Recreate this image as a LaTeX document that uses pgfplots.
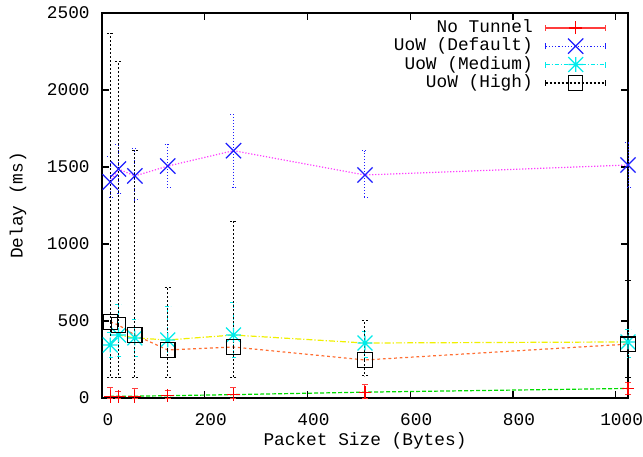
\documentclass[border=0pt]{standalone}
\usepackage{fontspec}
\setmainfont{Liberation Mono}
\usepackage{pgfplots}
\pgfplotsset{compat=1.18}

\definecolor{gpred}{RGB}{255,0,0}
\definecolor{gpredl}{RGB}{255,60,60}
\definecolor{gpgreen}{RGB}{0,220,0}
\definecolor{gpmag}{RGB}{255,60,255}
\definecolor{gpyel}{RGB}{240,240,0}
\definecolor{gporange}{RGB}{255,110,50}
\definecolor{gpblue}{RGB}{30,30,255}
\definecolor{gpcyan}{RGB}{0,235,235}

% gnuplot style star: plus and cross on top of each other
\pgfdeclareplotmark{gpstar}{%
  \pgfpathmoveto{\pgfqpoint{0pt}{-\pgfplotmarksize}}%
  \pgfpathlineto{\pgfqpoint{0pt}{\pgfplotmarksize}}%
  \pgfpathmoveto{\pgfqpoint{-\pgfplotmarksize}{0pt}}%
  \pgfpathlineto{\pgfqpoint{\pgfplotmarksize}{0pt}}%
  \pgfpathmoveto{\pgfqpoint{-\pgfplotmarksize}{-\pgfplotmarksize}}%
  \pgfpathlineto{\pgfqpoint{\pgfplotmarksize}{\pgfplotmarksize}}%
  \pgfpathmoveto{\pgfqpoint{-\pgfplotmarksize}{\pgfplotmarksize}}%
  \pgfpathlineto{\pgfqpoint{\pgfplotmarksize}{-\pgfplotmarksize}}%
  \pgfusepathqstroke}
\pgfdeclareplotmark{gpx}{%
  \pgfpathmoveto{\pgfqpoint{-\pgfplotmarksize}{-\pgfplotmarksize}}%
  \pgfpathlineto{\pgfqpoint{\pgfplotmarksize}{\pgfplotmarksize}}%
  \pgfpathmoveto{\pgfqpoint{-\pgfplotmarksize}{\pgfplotmarksize}}%
  \pgfpathlineto{\pgfqpoint{\pgfplotmarksize}{-\pgfplotmarksize}}%
  \pgfusepathqstroke}

\pgfplotsset{
  gpbars/.style={error bars/.cd, y dir=both, y explicit,
    error bar style={line width=0.5pt,#1},
    error mark options={rotate=90, mark size=1.5pt, line width=0.5pt, solid, #1}},
}

% x y ep em  (value, plus error, minus error)
\pgfplotstableread{
x y ep em
16 12 53 12
32 12 28 12
64 12 48 12
128 15 35 15
256 22 48 22
512 38 52 38
1024 62 38 42
}\notunnel
\pgfplotstableread{
x y ep em
16 1403 162 103
32 1487 156 156
64 1442 175 156
128 1506 143 136
256 1606 238 242
512 1448 158 143
1024 1513 143 143
}\uowdefault
\pgfplotstableread{
x y ep em
16 344 81 78
32 409 195 137
64 390 123 118
128 377 220 111
256 409 208 143
512 357 78 91
1024 364 84 98
}\uowmedium
\pgfplotstableread{
x y ep em
16 494 1876 358
32 474 1708 338
64 409 1201 273
128 312 408 176
256 331 818 195
512 247 259 104
1024 350 410 214
}\uowhigh

\begin{document}
\fontsize{8.9}{10}\selectfont
\begin{tikzpicture}
\path[use as bounding box] (-51pt,-29pt) rectangle (270.5pt,199pt);
\begin{axis}[
    scale only axis,
    width=263pt, height=192.5pt,
    xmin=0, xmax=1024, ymin=0, ymax=2500,
    xtick={0,200,...,1000}, ytick={0,500,...,2500},
    /pgf/number format/1000 sep={},
    /pgf/number format/assume math mode=true,
    scaled ticks=false,
    tick align=inside,
    major tick length=3.5pt,
    axis line style={line width=0.75pt},
    tick style={line width=0.6pt, black},
    xticklabel style={yshift=-4.5pt, xshift=3pt},
    yticklabel style={xshift=-3pt},
    xlabel={Packet Size (Bytes)},
    ylabel={Delay (ms)},
    xlabel style={at={(axis description cs:0.5,-0.1117)}, anchor=center},
    ylabel style={at={(axis description cs:-0.1597,0.5)}, anchor=center},
    clip=false,
    legend plot pos=right,
    legend cell align=right,
    legend style={at={(rel axis cs:1,1)}, anchor=north east, xshift=-10.5pt, yshift=-3pt,
      draw=none, fill=none, inner sep=0pt, row sep=0.9pt, column sep=6pt,
      nodes={inner sep=0pt, text height=6.5pt, text depth=1.8pt}},
  ]
% connecting lines
\addplot[gpgreen, line width=0.6pt, dash pattern=on 2pt off 1pt, forget plot] table[x=x,y=y] {\notunnel};
\addplot[gpmag, line width=0.6pt, dash pattern=on 0.6pt off 0.9pt, forget plot] table[x=x,y=y] {\uowdefault};
\addplot[gpyel, line width=0.6pt, dash pattern=on 3pt off 1pt on 0.6pt off 1pt, forget plot] table[x=x,y=y] {\uowmedium};
\addplot[gporange, line width=0.6pt, dash pattern=on 1.4pt off 1.4pt, forget plot] table[x=x,y=y] {\uowhigh};

% error bars with points
\addplot[color=gpred, only marks, mark=+, mark size=3.2pt, mark options={line width=0.6pt},
  legend image code/.code={
    \draw[gpredl, line width=0.9pt] (0pt,0pt) -- (30pt,0pt);
    \draw[gpredl, line width=0.6pt] (0pt,-1.5pt) -- (0pt,1.5pt) (30pt,-1.5pt) -- (30pt,1.5pt);
    \draw[gpred, line width=0.8pt] (11.8pt,0pt) -- (18.2pt,0pt) (15pt,-3.2pt) -- (15pt,3.2pt);},
  gpbars={gpredl}]
  table[x=x, y=y, y error plus=ep, y error minus=em] {\notunnel};
\addlegendentry{No Tunnel}
\addplot[gpblue, only marks, mark=gpx, mark size=3.8pt, mark options={line width=0.6pt},
  legend image code/.code={
    \draw[gpblue, line width=0.6pt, dash pattern=on 0.6pt off 1pt] (0pt,0pt) -- (30pt,0pt);
    \draw[gpblue, line width=0.6pt] (0pt,-1.5pt) -- (0pt,1.5pt) (30pt,-1.5pt) -- (30pt,1.5pt);
    \draw[gpblue, line width=0.6pt] plot[mark=gpx, mark size=3.8pt] coordinates {(15pt,0pt)};},
  gpbars={gpblue, dash pattern=on 0.5pt off 1pt}]
  table[x=x, y=y, y error plus=ep, y error minus=em] {\uowdefault};
\addlegendentry{UoW (Default)}
\addplot[gpcyan, only marks, mark=gpstar, mark size=3.7pt, mark options={line width=0.6pt},
  legend image code/.code={
    \draw[gpcyan, line width=0.6pt, dash pattern=on 2pt off 1pt on 0.5pt off 1pt] (0pt,0pt) -- (30pt,0pt);
    \draw[gpcyan, line width=0.6pt] (0pt,-1.5pt) -- (0pt,1.5pt) (30pt,-1.5pt) -- (30pt,1.5pt);
    \draw[gpcyan, line width=0.6pt] plot[mark=gpstar, mark size=3.7pt] coordinates {(15pt,0pt)};},
  gpbars={gpcyan, dash pattern=on 2pt off 1pt on 0.5pt off 1pt}]
  table[x=x, y=y, y error plus=ep, y error minus=em] {\uowmedium};
\addlegendentry{UoW (Medium)}
\addplot[black, only marks, mark=square, mark size=3.6pt, mark options={line width=0.6pt},
  legend image code/.code={
    \draw[black, line width=0.6pt, dash pattern=on 1pt off 1pt] (0pt,0pt) -- (30pt,0pt);
    \draw[black, line width=0.6pt] (0pt,-1.5pt) -- (0pt,1.5pt) (30pt,-1.5pt) -- (30pt,1.5pt);
    \draw[black, line width=0.6pt] plot[mark=square, mark size=3.6pt] coordinates {(15pt,0pt)};},
  gpbars={black, dash pattern=on 1pt off 1pt}]
  table[x=x, y=y, y error plus=ep, y error minus=em] {\uowhigh};
\addlegendentry{UoW (High)}
\end{axis}
\end{tikzpicture}
\end{document}
